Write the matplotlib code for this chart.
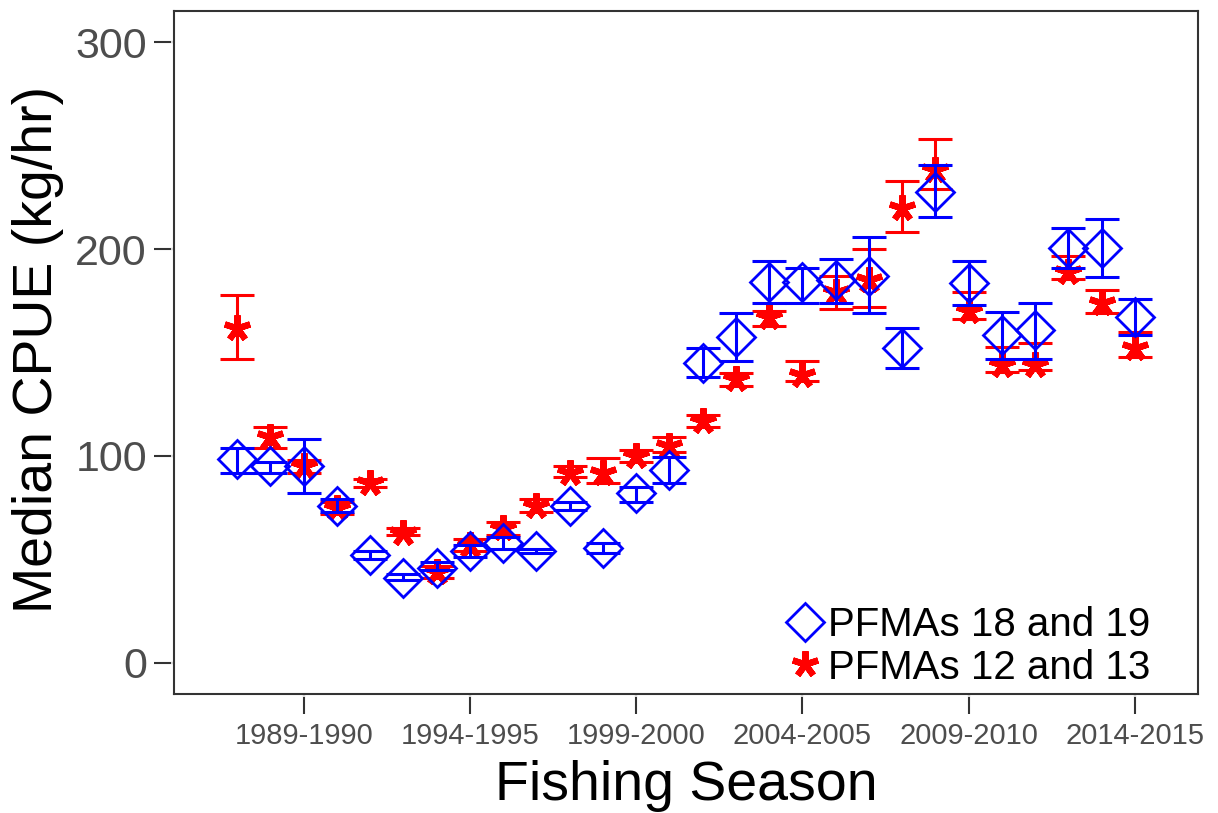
import numpy as np
import matplotlib
matplotlib.use("Agg")
import matplotlib.pyplot as plt
from matplotlib.lines import Line2D
from matplotlib.ticker import FixedLocator

# -------------------------
# Data
# -------------------------
seasons = [f"{y}-{y + 1}" for y in range(1987, 2015)]

# PFMAs 18 and 19 (blue diamonds): median, lower, upper
blue_med = [98.5, 95, 95, 76, 52, 41, 46, 54, 58, 54, 76, 55.5, 82, 93,
            145, 157.5, 184, 184, 185, 187, 152, 227.5, 183.5, 158.5, 161,
            200.5, 200.5, 167]
blue_lo = [92, 92, 82, 73, 50, 40, 45, 51, 55, 53, 74, 53, 78, 87,
           138, 146, 174, 174, 174, 169, 142.5, 215.5, 173, 147, 147,
           191, 186.5, 158.5]
blue_hi = [104, 97, 108, 79, 54, 43, 49, 57, 61, 55, 78, 58, 85, 99.5,
           152, 169, 194, 191, 195, 206, 162, 240.5, 194, 169.5, 174,
           210, 214.5, 176]

# PFMAs 12 and 13 (red asterisks): median, lower, upper
red_med = [162, 109, 95, 75, 87, 63, 44, 57, 65, 76, 92, 92, 100, 105,
           117, 137, 167, 139, 179, 185, 220, 238, 170, 144, 144, 189,
           174, 152]
red_lo = [147, 104, 92, 72, 85, 62, 41, 54, 62, 73, 90, 87, 97, 102,
          114, 134, 163, 136, 171, 172, 208, 229, 166, 140.5, 141.5, 185.5,
          169, 148]
red_hi = [178, 114, 98, 78, 89, 65, 47, 60, 68, 79, 95, 99, 103, 109,
          120, 140, 170, 146, 187, 200, 233, 253, 179, 152.6, 154.6, 196.6,
          180, 160]

label_blue = "PFMAs 18 and 19"
label_red = "PFMAs 12 and 13"

BLUE = "#0000FF"
RED = "#FF0000"
AXC = "#333333"

plt.rcParams["font.family"] = ["Liberation Sans", "DejaVu Sans"]

x = np.arange(len(seasons))


def err(med, lo, hi):
    med = np.asarray(med, float)
    return np.vstack([med - np.asarray(lo, float), np.asarray(hi, float) - med])


fig = plt.figure(figsize=(12.18, 8.13), dpi=100)
ax = fig.add_axes([174 / 1218, 1 - 694 / 813, (1198 - 174) / 1218, (694 - 11) / 813])

ax.errorbar(x, red_med, yerr=err(red_med, red_lo, red_hi), fmt="none",
            ecolor=RED, elinewidth=2.2, capsize=12, capthick=2.2, zorder=2)
ax.plot(x, red_med, ls="none", marker=(5, 2, 0), ms=19, mew=4.5,
        color=RED, zorder=3)

ax.errorbar(x, blue_med, yerr=err(blue_med, blue_lo, blue_hi), fmt="none",
            ecolor=BLUE, elinewidth=2.2, capsize=12, capthick=2.2, zorder=4)
ax.plot(x, blue_med, ls="none", marker="D", ms=19, mew=2,
        mfc="none", mec=BLUE, zorder=5)

ax.set_xlim(-1.9, 28.9)
ax.set_ylim(-15, 315)

# ticks
major_idx = [2, 7, 12, 17, 22, 27]
ax.set_xticks(major_idx)
ax.set_xticklabels([seasons[i] for i in major_idx], fontsize=21,
                   color="#4D4D4D")
ax.set_yticks([0, 100, 200, 300])
ax.set_yticklabels(["0", "100", "200", "300"], fontsize=31, color="#4D4D4D")
ax.tick_params(axis="both", which="major", direction="out", length=14.5,
               width=1.5, color=AXC)
ax.tick_params(axis="x", which="major", pad=6)
ax.tick_params(axis="y", which="major", pad=5)

# small white breaks on the frame
ax.xaxis.set_minor_locator(FixedLocator(np.arange(-0.5, 29, 2.5)))
ax.yaxis.set_minor_locator(FixedLocator(np.arange(0, 320, 50)))
ax.xaxis.remove_overlapping_locs = False
ax.yaxis.remove_overlapping_locs = False
ax.tick_params(axis="both", which="minor", direction="inout", length=4,
               width=1.2, color="white", top=True, right=True)

for s in ax.spines.values():
    s.set_color(AXC)
    s.set_linewidth(1.5)

ax.set_ylabel("Median CPUE (kg/hr)", fontsize=40, color="black", va="center")
ax.yaxis.set_label_coords(-0.133, 0.505)
ax.set_xlabel("Fishing Season", fontsize=40, color="black", va="center")
ax.xaxis.set_label_coords(0.5, -0.134)

handles = [
    Line2D([], [], ls="none", marker="D", ms=19, mew=2, mfc="none", mec=BLUE),
    Line2D([], [], ls="none", marker=(5, 2, 0), ms=19, mew=4.5, color=RED),
]
ax.legend(handles, [label_blue, label_red], loc="lower right",
          bbox_to_anchor=(0.957, 0.005), frameon=False, fontsize=29,
          handlelength=0.9, handletextpad=0.1, labelspacing=0.12,
          borderpad=0.1, borderaxespad=0)

fig.savefig("out.png", dpi=100)
